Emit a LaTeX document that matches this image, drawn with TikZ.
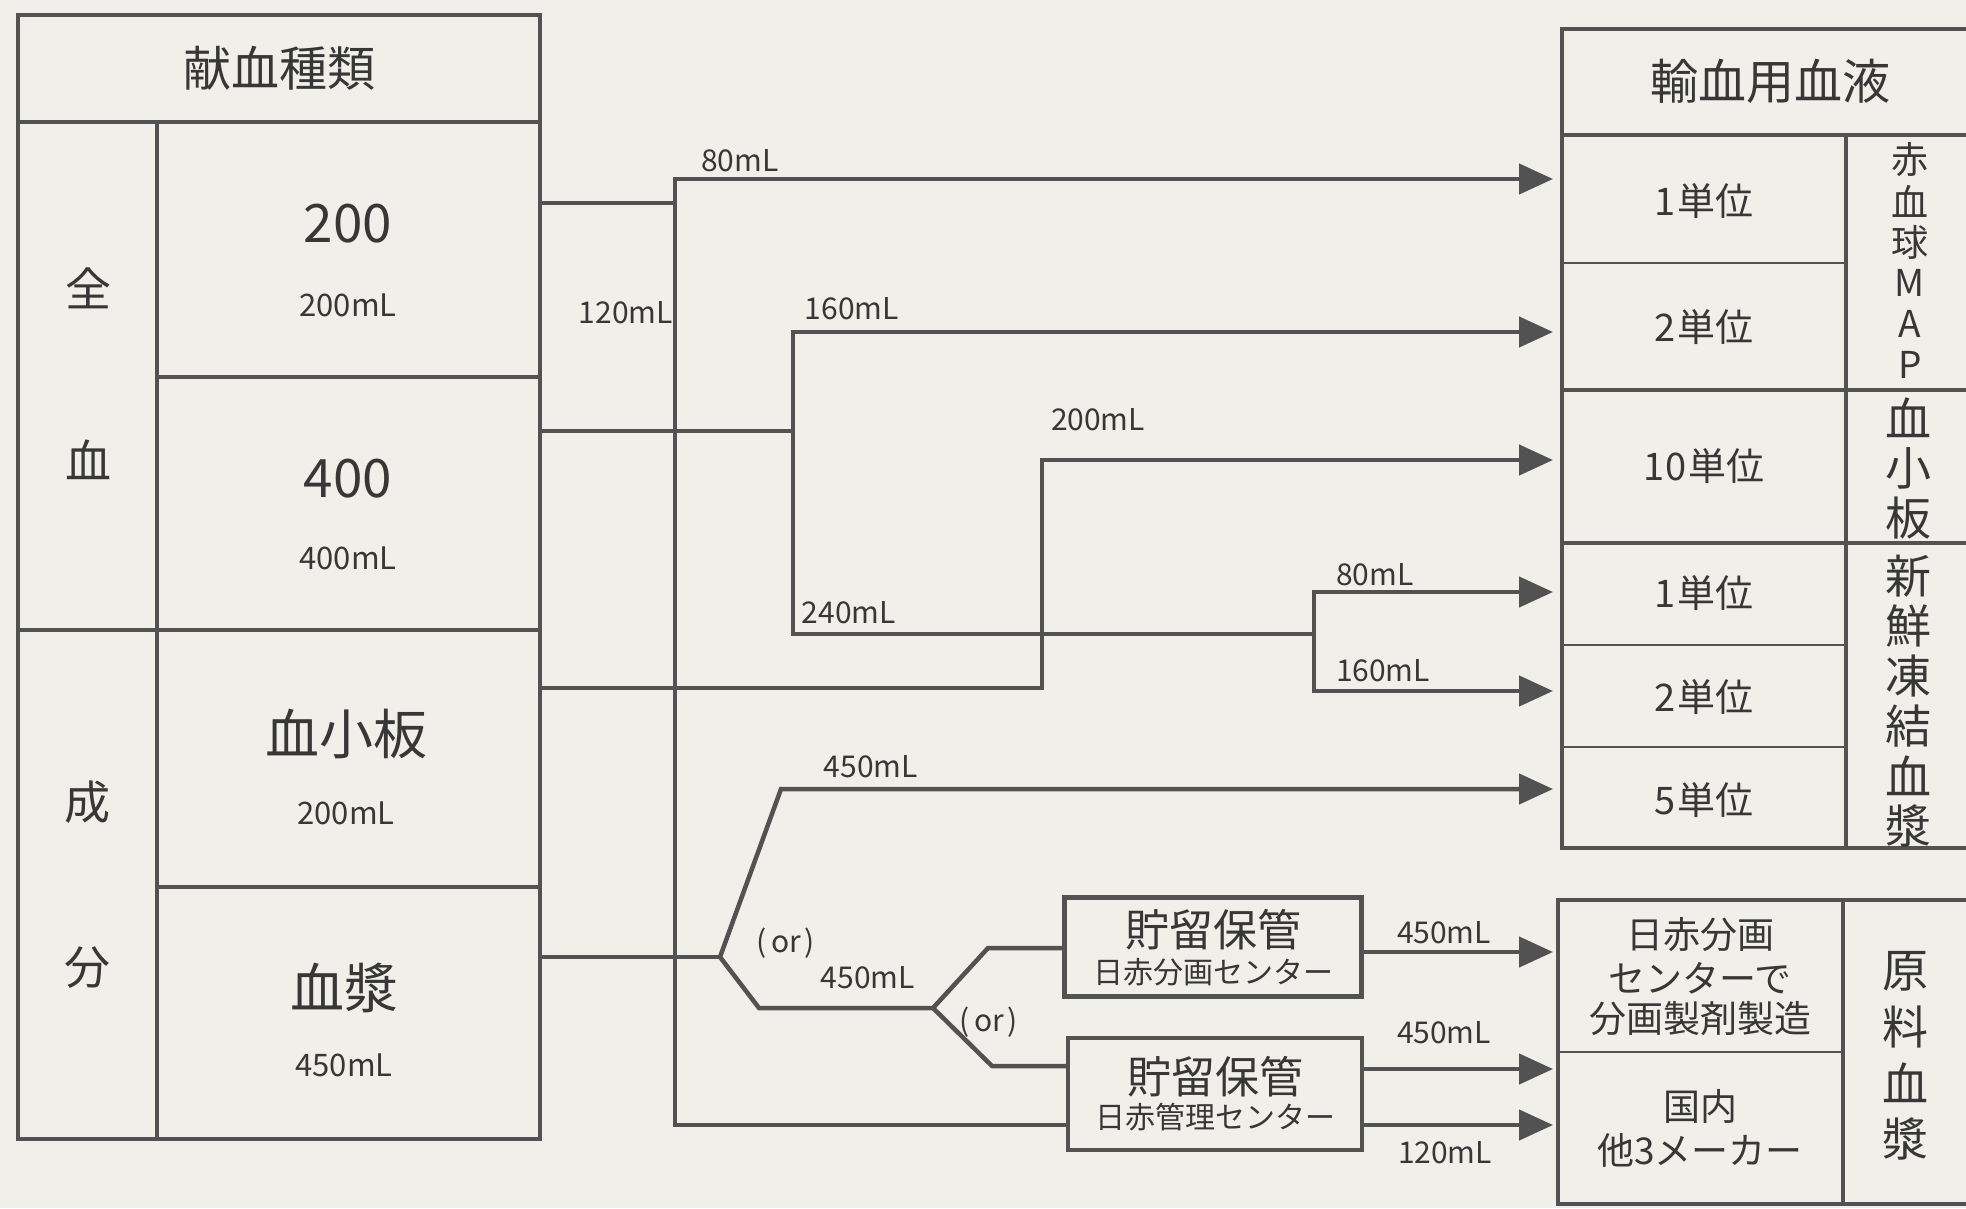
\documentclass[tikz,border=0pt]{standalone}
\usepackage{fontspec}
\setmainfont{Noto Sans CJK JP}
\usetikzlibrary{arrows.meta}
\definecolor{paper}{RGB}{240,239,233}
\definecolor{ink}{RGB}{82,82,82}
\definecolor{txt}{RGB}{55,55,55}
\tikzset{
  tbl/.style={draw=ink, line width=4pt, line cap=rect},
  thinrule/.style={draw=ink, line width=2.8pt},
  conn/.style={draw=ink, line width=4.5pt, line join=miter},
  arr/.style={conn, -{Triangle[length=34pt,width=30pt]}},
  tx/.style={text=txt, inner sep=0pt},
  hd/.style={tx, font=\fontsize{48}{56}\selectfont},
  side/.style={tx, font=\fontsize{46}{52}\selectfont},
  big/.style={tx, font=\fontsize{53}{60}\selectfont},
  cjk/.style={tx, font=\fontsize{54}{60}\selectfont},
  ml/.style={tx, font=\fontsize{31}{36}\selectfont},
  lab/.style={tx, font=\fontsize{30}{36}\selectfont},
  unit/.style={tx, font=\fontsize{38}{44}\selectfont},
  vt/.style={tx, font=\fontsize{37}{40}\selectfont},
  vtb/.style={tx, font=\fontsize{46}{50}\selectfont},
  rt/.style={tx, font=\fontsize{37}{42}\selectfont},
  storebox/.style={draw=ink, line width=4.5pt, fill=paper, inner sep=0pt},
  storebig/.style={tx, font=\fontsize{44}{50}\selectfont},
  storesmall/.style={tx, font=\fontsize{30}{36}\selectfont},
}
\begin{document}
\begin{tikzpicture}[x=1pt,y=-1pt]
\useasboundingbox (0,0) rectangle (1966,1208);
\fill[paper] (0,0) rectangle (1966,1208);
\clip (0,0) rectangle (1966,1208);

% ---------- left table ----------
\draw[tbl] (18,15) rectangle (540,1139);
\draw[tbl] (18,122) -- (540,122);
\draw[tbl] (157,122) -- (157,1139);
\draw[tbl] (18,630) -- (540,630);
\draw[tbl] (157,377) -- (540,377);
\draw[tbl] (157,887) -- (540,887);

\node[hd] (hdL) at (279,68) {献血種類};
\node[side] (zen) at (88,288) {全};
\node[side] (ketsu) at (88,460) {血};
\node[side] (sei) at (87,802) {成};
\node[side] (bun) at (87,968) {分};
\node[big] (v200) at (348,224) {200};
\node[ml] (m200) at (348,305) {200mL};
\node[big] (v400) at (348,479) {400};
\node[ml] (m400) at (348,558) {400mL};
\node[cjk] (plt) at (346,734) {血小板};
\node[ml] (mplt) at (346,813) {200mL};
\node[cjk] (pla) at (344,988) {血漿};
\node[ml] (mpla) at (344,1065) {450mL};

% ---------- right upper table ----------
\draw[tbl] (1990,29) -- (1562,29) -- (1562,848) -- (1990,848);
\draw[tbl] (1562,135) -- (1990,135);
\draw[tbl] (1562,390) -- (1990,390);
\draw[tbl] (1562,543) -- (1990,543);
\draw[tbl] (1846,135) -- (1846,848);
\draw[thinrule] (1562,263) -- (1846,263);
\draw[thinrule] (1562,645) -- (1846,645);
\draw[thinrule] (1562,747) -- (1846,747);

\node[hd] (hdR) at (1770,81) {輸血用血液};
\node[unit] (u1) at (1704,201) {1\kern2pt 単位};
\node[unit] (u2) at (1704,327) {2\kern2pt 単位};
\node[unit] (u10) at (1704,466) {10\kern2pt 単位};
\node[unit] (f1) at (1704,593) {1\kern2pt 単位};
\node[unit] (f2) at (1704,697) {2\kern2pt 単位};
\node[unit] (f5) at (1704,800) {5\kern2pt 単位};

\foreach \c [count=\i] in {赤,血,球,M,A,P}
  \node[vt] (rbcv\i) at (1910,119+41*\i) {\c};
\foreach \c [count=\i] in {血,小,板}
  \node[vtb] (pltv\i) at (1908,368+50*\i) {\c};
\foreach \c [count=\i] in {新,鮮,凍,結,血,漿}
  \node[vtb] (ffpv\i) at (1908,526+50*\i) {\c};

% ---------- right lower table ----------
\draw[tbl] (1990,900) -- (1558,900) -- (1558,1204) -- (1990,1204);
\draw[tbl] (1843,900) -- (1843,1204);
\draw[thinrule] (1558,1052) -- (1843,1052);

\node[rt] (fr1) at (1700,935) {日赤分画};
\node[rt] (fr2) at (1700,978) {センターで};
\node[rt] (fr3) at (1700,1019) {分画製剤製造};
\node[rt] (dm1) at (1700,1106) {国内};
\node[rt] (dm2) at (1700,1150) {他3メーカー};
\foreach \c [count=\i] in {原,料,血,漿}
  \node[vtb] (rawv\i) at (1905,915+56*\i) {\c};

% ---------- storage boxes ----------
\node[storebox, minimum width=297pt, minimum height=99pt] (store1) at (1213,947) {};
\node[storebig] (s1a) at (1213,930) {貯留保管};
\node[storesmall] (s1b) at (1213,972) {日赤分画センター};
\node[storebox, minimum width=294pt, minimum height=112pt] (store2) at (1215,1094) {};
\node[storebig] (s2a) at (1215,1077) {貯留保管};
\node[storesmall] (s2b) at (1215,1117) {日赤管理センター};

% ---------- coordinates ----------
\coordinate (o200) at (540,203);
\coordinate (o400) at (540,431);
\coordinate (oplt) at (540,688);
\coordinate (opla) at (540,957);
\coordinate (tTop) at (675,179);
\coordinate (t200) at (675,203);
\coordinate (tBot) at (675,1125);
\coordinate (j400) at (793,431);
\coordinate (j160) at (793,332);
\coordinate (j240) at (793,634);
\coordinate (jffp) at (1314,634);
\coordinate (jffp1) at (1314,592);
\coordinate (jffp2) at (1314,691);
\coordinate (jplt) at (1042,688);
\coordinate (j200) at (1042,460);
\coordinate (fork1) at (720,957);
\coordinate (fk1u) at (781,789);
\coordinate (fk1l) at (759,1008);
\coordinate (fork2) at (933,1008);
\coordinate (fk2u) at (988,948);
\coordinate (fk2l) at (992,1066);
\coordinate (s2inB) at (1068,1125);
\coordinate (s2outB) at (1362,1125);
\coordinate (s1in) at (1065,948);
\coordinate (s1out) at (1362,952);
\coordinate (s2in) at (1068,1066);
\coordinate (s2out) at (1362,1069);
\coordinate (rbc1) at (1553,179);
\coordinate (rbc2) at (1553,332);
\coordinate (plt10) at (1553,460);
\coordinate (ffp1) at (1553,592);
\coordinate (ffp2) at (1553,691);
\coordinate (ffp5) at (1553,789);
\coordinate (raw1) at (1553,952);
\coordinate (raw2) at (1553,1069);
\coordinate (raw3) at (1553,1125);

% ---------- connectors ----------
\draw[conn] (o200) -- (t200);
\draw[arr] (s2inB) -- (tBot) -- (tTop) -- (rbc1);
\draw[conn] (o400) -- (j400);
\draw[arr] (jffp) -- (j240) -- (j160) -- (rbc2);
\draw[conn, {Triangle[length=34pt,width=30pt]}-{Triangle[length=34pt,width=30pt]}] (ffp1) -- (jffp1) -- (jffp2) -- (ffp2);
\draw[arr] (oplt) -- (jplt) -- (j200) -- (plt10);
\draw[conn] (opla) -- (fork1);
\draw[arr] (fork1) -- (fk1u) -- (ffp5);
\draw[conn] (fork1) -- (fk1l) -- (fork2);
\draw[conn] (fork2) -- (fk2u) -- (s1in);
\draw[conn] (fork2) -- (fk2l) -- (s2in);
\draw[arr] (s1out) -- (raw1);
\draw[arr] (s2out) -- (raw2);
\draw[arr] (s2outB) -- (raw3);

% ---------- labels ----------
\node[lab] (l80a) at (740,161) {80mL};
\node[lab] (l120a) at (626,313) {120mL};
\node[lab] (l160a) at (852,309) {160mL};
\node[lab] (l200) at (1098,420) {200mL};
\node[lab] (l240) at (849,613) {240mL};
\node[lab] (l80b) at (1375,575) {80mL};
\node[lab] (l160b) at (1383,671) {160mL};
\node[lab] (l450a) at (871,767) {450mL};
\node[lab] (or1) at (786,943) {(\kern4pt or\kern4pt)};
\node[lab] (l450b) at (868,978) {450mL};
\node[lab] (or2) at (989,1022) {(\kern4pt or\kern4pt)};
\node[lab] (l450c) at (1444,933) {450mL};
\node[lab] (l450d) at (1444,1033) {450mL};
\node[lab] (l120b) at (1445,1153) {120mL};
\end{tikzpicture}
\end{document}
